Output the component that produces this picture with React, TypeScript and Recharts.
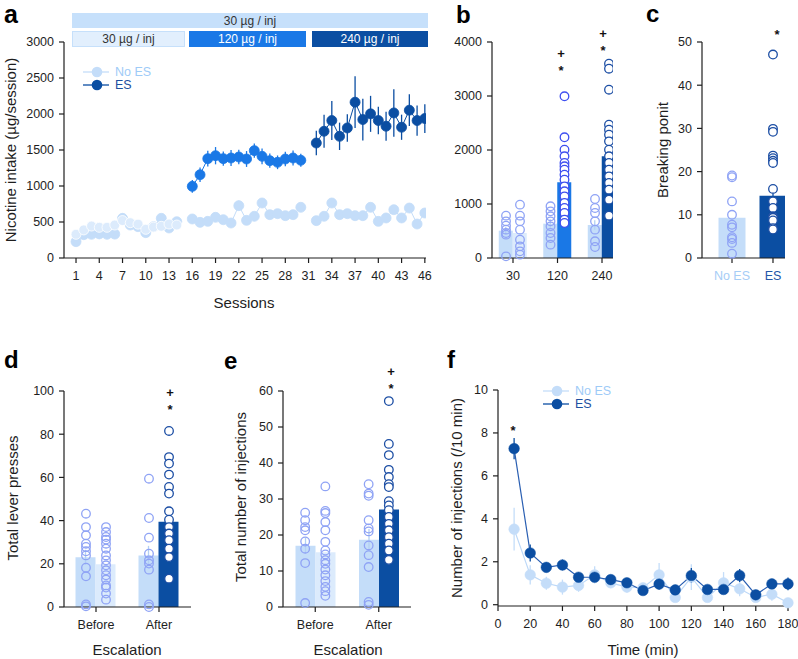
import React from "react";
import { ComposedChart, Line, Bar, Scatter, XAxis, YAxis, ErrorBar, Cell } from "recharts";

const FONT = '"Liberation Sans", Arial, Helvetica, sans-serif';
const INK = "#1e1e1e";
const LIGHT = "#c4ddf9";
const PALE = "#dcebfc";
const MID = "#1a78e6";
const DARK = "#0b4ea2";
const RING_LIGHT = "#8fa3f5";
const RING_MID = "#3d4ef0";
const RING_DARK = "#1c4ea4";

// ---- a: nicotine intake per session
const sessionTicks = [1, 4, 7, 10, 13, 16, 19, 22, 25, 28, 31, 34, 37, 40, 43, 46];
const intakeTicks = [0, 500, 1000, 1500, 2000, 2500, 3000];
const sessions30 = [1, 2, 3, 4, 5, 6, 7, 8, 9, 10, 11, 12, 13, 14];
const sessions120 = [16, 17, 18, 19, 20, 21, 22, 23, 24, 25, 26, 27, 28, 29, 30];
const sessions240 = [32, 33, 34, 35, 36, 37, 38, 39, 40, 41, 42, 43, 44, 45, 46];
const noEsIntake30 = [227, 324, 329, 335, 329, 332, 551, 458, 435, 352, 435, 551, 417, 504];
const noEsSem30 = [50, 45, 45, 40, 45, 40, 70, 50, 45, 40, 45, 60, 45, 45];
const esIntake30 = [329, 390, 444, 426, 426, 458, 520, 490, 470, 398, 430, 440, 472, 458];
const esSem30 = [40, 40, 40, 40, 40, 40, 50, 40, 40, 40, 40, 40, 40, 40];
const noEsIntake120 = [542, 495, 509, 565, 532, 486, 727, 523, 579, 764, 602, 616, 588, 602, 704];
const noEsSem120 = [50, 45, 45, 50, 45, 45, 70, 50, 55, 60, 50, 50, 45, 50, 60];
const noEsIntake240 = [519, 579, 764, 602, 616, 588, 588, 704, 509, 556, 671, 556, 694, 472, 625];
const noEsSem240 = [55, 60, 60, 50, 50, 45, 50, 60, 55, 50, 55, 45, 60, 60, 55];
const esIntake120 = [995, 1157, 1380, 1421, 1380, 1389, 1403, 1375, 1491, 1412, 1352, 1329, 1375, 1389, 1357];
const esSem120 = [90, 100, 110, 120, 100, 110, 100, 110, 100, 110, 100, 95, 100, 105, 90];
const esIntake240 = [1597, 1760, 1909, 1690, 1806, 2164, 1923, 2002, 1909, 1830, 2015, 1816, 2053, 1909, 1937];
const esSem240 = [170, 230, 270, 190, 190, 360, 290, 250, 190, 200, 330, 175, 220, 210, 200];

// ---- b: intake per dose
const doseLabels = ["30", "120", "240"];
const doseTicks = [0, 1000, 2000, 3000, 4000];
const doseNoEsMean = [506, 636, 611];
const doseNoEsSem = [70, 80, 90];
const doseEsMean = [463, 1401, 1883];
const doseNoEsPts = [
  [784, 679, 599, 525, 463, 432, 31],
  [957, 864, 772, 679, 586, 463, 370, 247],
  [1093, 926, 833, 679, 525, 309, 204],
];
const doseEsPts = [
  [988, 784, 679, 525, 340, 216, 123, 62],
  [2994, 2235, 2006, 1883, 1759, 1698, 1636, 1543, 1451, 1327, 1235, 1142, 1019, 926, 833, 710, 648],
  [3599, 3506, 3117, 2469, 2377, 2284, 2160, 2006, 1883, 1759, 1636, 1512, 1389, 1265, 1080, 784],
];

// ---- c: breaking point
const groupLabels = ["No ES", "ES"];
const bpTicks = [0, 10, 20, 30, 40, 50];
const bpMean = [9.3, 14.4];
const bpEsSem = 1.9;
const bpNoEsPts = [19.1, 18.7, 13.1, 10, 7.7, 7.1, 4.8, 4.4, 3.5, 1.0];
const bpEsPts = [47.1, 29.9, 29.2, 23.7, 23.1, 22.5, 22.0, 16.0, 13.1, 11.6, 9.6, 9.3, 8.7, 6.9, 6.6];

// ---- d: lever presses
const escLabels = ["Before", "After"];
const pressTicks = [0, 20, 40, 60, 80, 100];
const pressNoEsMean = [23, 23.8];
const pressNoEsSem = [3.5, 4.5];
const pressEsMean = [19.8, 39.5];
const pressNoEsPts = [
  [43.2, 37, 33.2, 29.3, 27.8, 25.8, 23.9, 18.2, 14.2, 1.2, 0.3],
  [59.4, 41.2, 32.1, 24.7, 21.6, 20.1, 17.3, 1.2, 0],
];
const pressEsPts = [
  [37, 34.7, 32.4, 31.2, 29.3, 27, 23.9, 21.6, 19.3, 17, 14.7, 12.7, 10, 9, 6.2, 3.4],
  [81.5, 69.4, 66.4, 61.3, 55.6, 52.5, 44.3, 40.4, 37, 34, 30.9, 27, 23.1, 13.1],
];

// ---- e: injections
const injTicks = [0, 10, 20, 30, 40, 50, 60];
const injNoEsMean = [17.0, 18.7];
const injNoEsSem = [2.2, 3.0];
const injEsMean = [15.2, 27.1];
const injNoEsPts = [
  [26.2, 24.1, 22.2, 21.3, 18.2, 16.2, 12.2, 1.1],
  [34.1, 31.5, 30.9, 24.1, 21.8, 21, 17.1, 14.4, 11.1, 1.4, 0.6],
];
const injEsPts = [
  [33.5, 26.7, 26.1, 23.6, 21.3, 18.1, 15.7, 14.6, 13, 12, 10.4, 8.8, 7.2, 5.6, 4.4, 3.1],
  [57.2, 45.3, 42.2, 38.1, 36.1, 34.1, 33.3, 29.4, 28.2, 26.9, 25, 23.1, 21.3, 19.4, 17.6, 15.7, 13.1],
];

// ---- f: time course
const timeBins = [10, 20, 30, 40, 50, 60, 70, 80, 90, 100, 110, 120, 130, 140, 150, 160, 170, 180];
const timeTicks = [0, 20, 40, 60, 80, 100, 120, 140, 160, 180];
const rateTicks = [0, 2, 4, 6, 8, 10];
const rateNoEs = [3.52, 1.39, 1.0, 0.82, 0.9, 1.39, 1.02, 0.82, 0.79, 1.39, 0.34, 1.28, 0.34, 1.02, 0.74, 0.34, 0.49, 0.09];
const rateNoEsSem = [1.0, 0.45, 0.3, 0.35, 0.3, 0.4, 0.25, 0.25, 0.2, 0.55, 0.2, 0.6, 0.2, 0.5, 0.35, 0.2, 0.3, 0.15];
const rateEs = [7.27, 2.41, 1.74, 1.85, 1.28, 1.28, 1.17, 1.02, 0.66, 0.96, 0.69, 1.36, 0.71, 0.71, 1.36, 0.46, 0.97, 0.97];
const rateEsSem = [0.5, 0.4, 0.2, 0.25, 0.2, 0.2, 0.2, 0.15, 0.15, 0.25, 0.2, 0.35, 0.2, 0.2, 0.3, 0.15, 0.2, 0.3];

const toRows = (xs: number[], ys: number[], errs: number[]) =>
  xs.map((x, i) => ({ x, y: ys[i], err: errs[i] }));

const xAxisStyle = {
  stroke: INK,
  strokeWidth: 1.2,
  tickSize: 5,
  tickMargin: 8,
  tick: { fill: INK, fontSize: 12.5 },
  interval: 0 as const,
};
const yAxisStyle = { ...xAxisStyle, tickMargin: 5 };

const ring = (stroke: string, fill: string) => (props: any) =>
  <circle cx={props.cx} cy={props.cy} r={4.3} fill={fill} stroke={stroke} strokeWidth={1.3} />;

function Box({ left, top, children }: { left: number; top: number; children: React.ReactNode }) {
  return <div style={{ position: "absolute", left, top }}>{children}</div>;
}

function IntakeChart() {
  const series = [
    { data: toRows(sessions30, noEsIntake30, noEsSem30), color: LIGHT, edge: LIGHT },
    { data: toRows(sessions30, esIntake30, esSem30), color: PALE, edge: "#ffffff" },
    { data: toRows(sessions120, noEsIntake120, noEsSem120), color: LIGHT, edge: LIGHT },
    { data: toRows(sessions240, noEsIntake240, noEsSem240), color: LIGHT, edge: LIGHT },
    { data: toRows(sessions120, esIntake120, esSem120), color: MID, edge: MID },
    { data: toRows(sessions240, esIntake240, esSem240), color: DARK, edge: DARK },
  ];
  return (
    <ComposedChart width={440} height={310} margin={{ top: 42, right: 14, bottom: 22, left: 14 }}>
      <XAxis type="number" dataKey="x" domain={[-0.55, 46.15]} allowDataOverflow ticks={sessionTicks} height={30} {...xAxisStyle} />
      <YAxis type="number" domain={[0, 3000]} ticks={intakeTicks} width={50} {...yAxisStyle} />
      {series.map((s, i) => (
        <Line
          key={i}
          data={s.data}
          dataKey="y"
          stroke={s.color}
          strokeWidth={1}
          dot={{ r: 5, fill: s.color, stroke: s.edge, strokeWidth: 0.8 }}
          activeDot={false}
          isAnimationActive={false}
        >
          <ErrorBar dataKey="err" width={0} stroke={s.color} strokeWidth={1.3} />
        </Line>
      ))}
    </ComposedChart>
  );
}

type PairProps = {
  width: number;
  height: number;
  margin: { top: number; right: number; bottom: number; left: number };
  yWidth: number;
  xDomain: [number, number];
  labels: string[];
  yDomain: [number, number];
  yTicks: number[];
  barSize: number;
  shift: number;
  noEsMean: number[];
  noEsSem: number[];
  esMean: number[];
  esFill: string[];
  noEsPts: number[][];
  esPts: number[][];
  esRing: string[];
  esRingFill: string[];
};

function PairedBars(p: PairProps) {
  const rows = p.labels.map((_, i) => ({ x: i, noEs: p.noEsMean[i], noEsErr: p.noEsSem[i], es: p.esMean[i] }));
  return (
    <ComposedChart width={p.width} height={p.height} data={rows} margin={p.margin} barGap={0}>
      <XAxis
        type="number"
        dataKey="x"
        domain={p.xDomain}
        allowDataOverflow
        ticks={p.labels.map((_, i) => i)}
        tickFormatter={(v: number) => p.labels[v] ?? ""}
        height={30}
        {...xAxisStyle}
      />
      <XAxis xAxisId="pts" type="number" dataKey="x" domain={p.xDomain} allowDataOverflow hide />
      <YAxis type="number" domain={p.yDomain} ticks={p.yTicks} width={p.yWidth} {...yAxisStyle} />
      <Bar dataKey="noEs" barSize={p.barSize} fill={LIGHT} isAnimationActive={false}>
        <ErrorBar dataKey="noEsErr" width={0} stroke="#b3d0f3" strokeWidth={1.3} />
      </Bar>
      <Bar dataKey="es" barSize={p.barSize} isAnimationActive={false}>
        {rows.map((_, i) => (
          <Cell key={i} fill={p.esFill[i]} />
        ))}
      </Bar>
      {p.noEsPts.map((pts, i) => (
        <Scatter
          key={"n" + i}
          xAxisId="pts"
          data={pts.map((v) => ({ x: i - p.shift, y: v }))}
          dataKey="y"
          shape={ring(RING_LIGHT, "none")}
          isAnimationActive={false}
        />
      ))}
      {p.esPts.map((pts, i) => (
        <Scatter
          key={"e" + i}
          xAxisId="pts"
          data={pts.map((v) => ({ x: i + p.shift, y: v }))}
          dataKey="y"
          shape={ring(p.esRing[i], p.esRingFill[i])}
          isAnimationActive={false}
        />
      ))}
    </ComposedChart>
  );
}

function BreakingPointChart() {
  const rows = groupLabels.map((_, i) => ({ x: i, bp: bpMean[i], err: i === 1 ? bpEsSem : 0 }));
  const labelColors = ["#a6cdf6", "#2456a8"];
  return (
    <ComposedChart width={168} height={310} data={rows} margin={{ top: 42, right: 13, bottom: 22, left: 32 }}>
      <XAxis
        type="number"
        dataKey="x"
        domain={[-0.732, 1.293]}
        allowDataOverflow
        ticks={[0, 1]}
        height={30}
        {...xAxisStyle}
        tick={(t: any) => (
          <text x={t.x} y={t.y} dy="0.71em" textAnchor="middle" fontSize={12.5} fill={labelColors[t.index]}>
            {groupLabels[t.payload.value]}
          </text>
        )}
      />
      <XAxis xAxisId="pts" type="number" dataKey="x" domain={[-0.732, 1.293]} allowDataOverflow hide />
      <YAxis type="number" domain={[0, 50]} ticks={bpTicks} width={40} {...yAxisStyle} />
      <Bar dataKey="bp" barSize={27} isAnimationActive={false}>
        <Cell fill={LIGHT} />
        <Cell fill={DARK} />
        <ErrorBar dataKey="err" width={0} stroke={DARK} strokeWidth={1.3} />
      </Bar>
      <Scatter xAxisId="pts" data={bpNoEsPts.map((v) => ({ x: 0, y: v }))} dataKey="y" shape={ring(RING_LIGHT, "none")} isAnimationActive={false} />
      <Scatter xAxisId="pts" data={bpEsPts.map((v) => ({ x: 1, y: v }))} dataKey="y" shape={ring(RING_DARK, "#ffffff")} isAnimationActive={false} />
    </ComposedChart>
  );
}

function TimeCourseChart() {
  const series = [
    { data: toRows(timeBins, rateNoEs, rateNoEsSem), color: LIGHT, line: "#bcd8f8" },
    { data: toRows(timeBins, rateEs, rateEsSem), color: DARK, line: "#2a5fb2" },
  ];
  return (
    <ComposedChart width={358} height={329} margin={{ top: 60, right: 10, bottom: 23, left: 8 }}>
      <XAxis type="number" dataKey="x" domain={[0, 180]} ticks={timeTicks} height={30} {...xAxisStyle} />
      <YAxis type="number" domain={[0, 10]} ticks={rateTicks} width={50} {...yAxisStyle} />
      {series.map((s, i) => (
        <Line
          key={i}
          data={s.data}
          dataKey="y"
          stroke={s.line}
          strokeWidth={1.2}
          dot={{ r: 5.3, fill: s.color, stroke: s.color, strokeWidth: 0.5 }}
          activeDot={false}
          isAnimationActive={false}
        >
          <ErrorBar dataKey="err" width={0} stroke={s.color} strokeWidth={1.3} />
        </Line>
      ))}
    </ComposedChart>
  );
}

function LegendRow({ x, y, color, textColor, label }: { x: number; y: number; color: string; textColor: string; label: string }) {
  return (
    <g>
      <line x1={x - 14} x2={x + 12} y1={y} y2={y} stroke={color} strokeWidth={1.3} />
      <circle cx={x} cy={y} r={5.3} fill={color} />
      <text x={x + 18} y={y + 4.3} fontSize={12.5} fill={textColor}>
        {label}
      </text>
    </g>
  );
}

function Overlay() {
  const letter = { fontSize: 24, fontWeight: 700, fill: "#000" } as const;
  const title = { fontSize: 15, fill: INK, textAnchor: "middle" } as const;
  const mark = { fontSize: 13, fontWeight: 700, fill: "#111", textAnchor: "middle" } as const;
  const yTitle = (x: number, y: number, text: string) => (
    <text x={x} y={y} transform={`rotate(-90 ${x} ${y})`} dominantBaseline="central" {...title}>
      {text}
    </text>
  );
  const plusStar = (x: number, y: number) => (
    <g>
      <text x={x} y={y + 4.5} {...mark}>+</text>
      <text x={x} y={y + 14 + 7.5} {...mark}>*</text>
    </g>
  );
  return (
    <svg width={798} height={659} style={{ position: "absolute", left: 0, top: 0, pointerEvents: "none" }}>
      {/* dose bars above panel a */}
      <rect x={72} y={13} width={356} height={15} fill="#c6e0fb" />
      <text x={250} y={24.5} fontSize={12} fill="#333" textAnchor="middle">30 µg / inj</text>
      <rect x={72.5} y={31.5} width={112} height={15} fill="#e2effd" stroke="#c6e0fb" />
      <text x={128.5} y={43} fontSize={12} fill="#333" textAnchor="middle">30 µg / inj</text>
      <rect x={189} y={31} width={117} height={16} fill={MID} />
      <text x={247.5} y={43} fontSize={12} fill="#fff" textAnchor="middle">120 µg / inj</text>
      <rect x={312} y={31} width={116} height={16} fill={DARK} />
      <text x={370} y={43} fontSize={12} fill="#fff" textAnchor="middle">240 µg / inj</text>

      <text x={4} y={23} {...letter} fontSize={25}>a</text>
      <text x={456} y={23} {...letter}>b</text>
      <text x={646} y={22} {...letter}>c</text>
      <text x={4} y={368} {...letter}>d</text>
      <text x={224} y={369} {...letter}>e</text>
      <text x={447} y={368} {...letter}>f</text>

      <LegendRow x={97} y={72} color={LIGHT} textColor="#9ecbf7" label="No ES" />
      <LegendRow x={97} y={85} color={DARK} textColor="#1d4fa0" label="ES" />
      <LegendRow x={557} y={391} color={LIGHT} textColor="#9ecbf7" label="No ES" />
      <LegendRow x={557} y={404} color={DARK} textColor="#1d4fa0" label="ES" />

      <text x={244} y={307.5} {...title}>Sessions</text>
      {yTitle(10, 150, "Nicotine intake (µg/session)")}
      {yTitle(662, 150, "Breaking ponit")}
      {yTitle(12, 498, "Total lever presses")}
      {yTitle(240, 497, "Total number of injections")}
      {yTitle(456, 498, "Number of injections (/10 min)")}
      <text x={127} y={655} {...title}>Escalation</text>
      <text x={348} y={655} {...title}>Escalation</text>
      <text x={643} y={655} {...title}>Time (min)</text>

      {plusStar(561, 53)}
      {plusStar(603, 33)}
      <text x={777} y={31 + 7.5} {...mark}>*</text>
      {plusStar(170, 392)}
      {plusStar(391, 371)}
      <text x={513} y={427 + 7.5} {...mark}>*</text>
    </svg>
  );
}

export default function App() {
  return (
    <div
      style={{
        position: "absolute",
        left: 0,
        top: 0,
        width: 798,
        height: 659,
        background: "#fff",
        fontFamily: FONT,
        overflow: "hidden",
      }}
    >
      <Box left={0} top={0}>
        <IntakeChart />
      </Box>
      <Box left={450} top={0}>
        <PairedBars
          width={175}
          height={310}
          margin={{ top: 42, right: 12, bottom: 22, left: 0 }}
          yWidth={42}
          xDomain={[-0.472, 2.247]}
          labels={doseLabels}
          yDomain={[0, 4000]}
          yTicks={doseTicks}
          barSize={14}
          shift={0.157}
          noEsMean={doseNoEsMean}
          noEsSem={doseNoEsSem}
          esMean={doseEsMean}
          esFill={[PALE, MID, DARK]}
          noEsPts={doseNoEsPts}
          esPts={doseEsPts}
          esRing={[RING_LIGHT, RING_MID, RING_DARK]}
          esRingFill={["none", "#ffffff", "#ffffff"]}
        />
      </Box>
      <Box left={630} top={0}>
        <BreakingPointChart />
      </Box>
      <Box left={0} top={330}>
        <PairedBars
          width={220}
          height={329}
          margin={{ top: 61, right: 29, bottom: 22, left: 14 }}
          yWidth={50}
          xDomain={[-0.508, 1.508]}
          labels={escLabels}
          yDomain={[0, 100]}
          yTicks={pressTicks}
          barSize={20}
          shift={0.159}
          noEsMean={pressNoEsMean}
          noEsSem={pressNoEsSem}
          esMean={pressEsMean}
          esFill={[PALE, DARK]}
          noEsPts={pressNoEsPts}
          esPts={pressEsPts}
          esRing={[RING_LIGHT, RING_DARK]}
          esRingFill={["none", "#ffffff"]}
        />
      </Box>
      <Box left={220} top={330}>
        <PairedBars
          width={220}
          height={329}
          margin={{ top: 61, right: 29, bottom: 22, left: 13 }}
          yWidth={50}
          xDomain={[-0.508, 1.508]}
          labels={escLabels}
          yDomain={[0, 60]}
          yTicks={injTicks}
          barSize={20}
          shift={0.159}
          noEsMean={injNoEsMean}
          noEsSem={injNoEsSem}
          esMean={injEsMean}
          esFill={[PALE, DARK]}
          noEsPts={injNoEsPts}
          esPts={injEsPts}
          esRing={[RING_LIGHT, RING_DARK]}
          esRingFill={["none", "#ffffff"]}
        />
      </Box>
      <Box left={440} top={330}>
        <TimeCourseChart />
      </Box>
      <Overlay />
    </div>
  );
}
